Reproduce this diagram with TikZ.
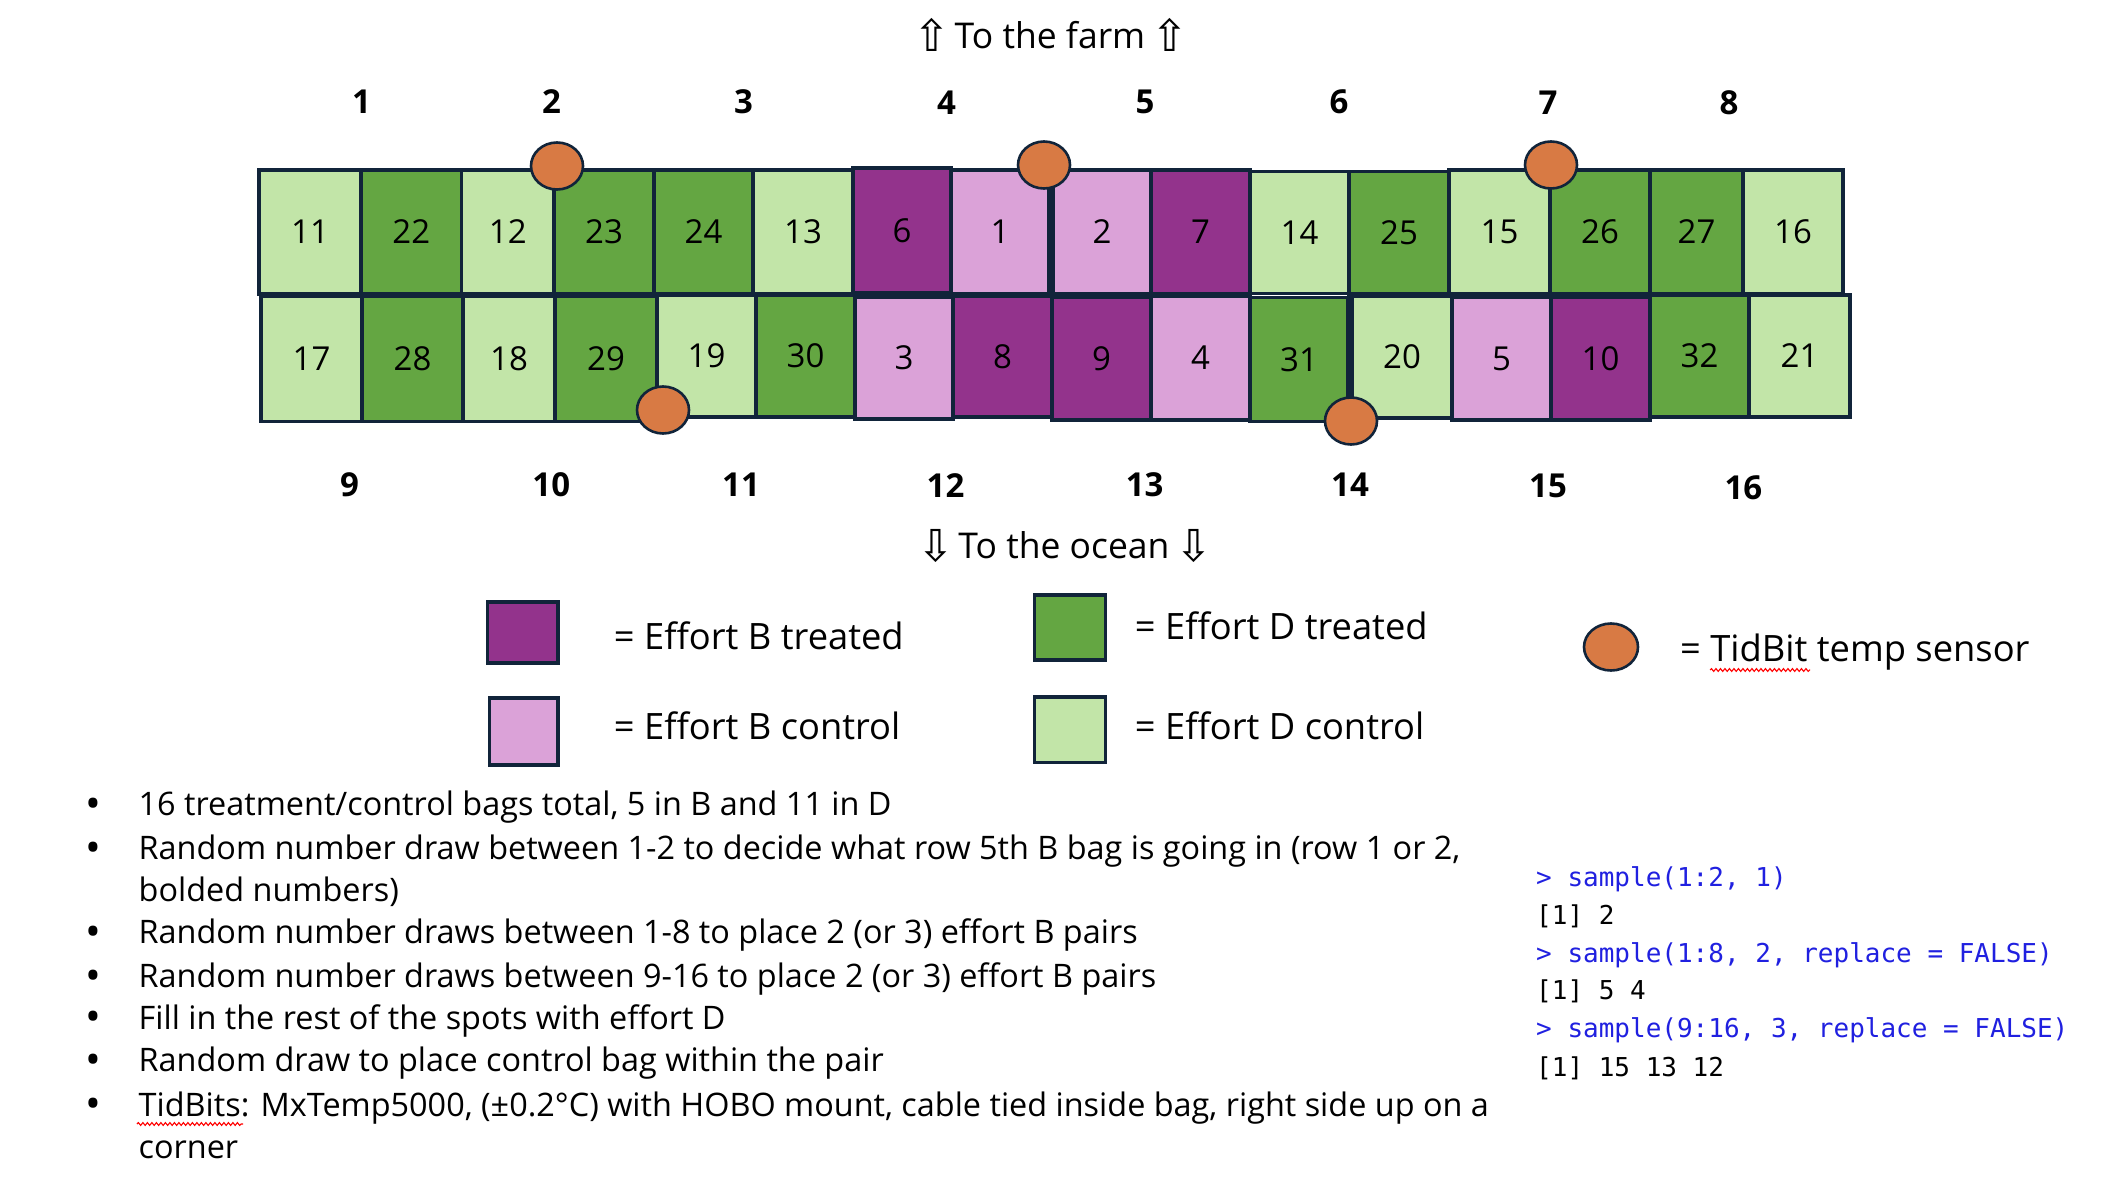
\documentclass[tikz,border=0pt]{standalone}
\usepackage{fontspec}
\setmainfont{Open Sans}
\newfontfamily\arrowfont{DejaVu Sans}
\newfontfamily\codefont{DejaVu Sans Mono}
\usetikzlibrary{shapes.geometric,decorations.pathmorphing}
\definecolor{bT}{HTML}{93338C}
\definecolor{bC}{HTML}{DBA2D8}
\definecolor{dT}{HTML}{64A642}
\definecolor{dC}{HTML}{C2E5A8}
\definecolor{sens}{HTML}{D87A44}
\definecolor{edge}{HTML}{11243A}
\definecolor{rblue}{HTML}{2020E0}
\tikzset{
 bagbox/.style={draw=edge,line width=3.2pt,inner sep=0pt,font=\fontsize{33}{40}\selectfont},
 sensor/.style={ellipse,draw=edge,line width=2.6pt,fill=sens,minimum width=52pt,minimum height=47pt,inner sep=0pt},
 collabel/.style={inner sep=0pt,font=\fontsize{33}{40}\selectfont\bfseries},
 bigtext/.style={inner sep=0pt,font=\fontsize{36.3}{42}\selectfont},
 headtext/.style={inner sep=0pt,font=\fontsize{35.5}{42}\selectfont},
 bullettext/.style={inner sep=0pt,anchor=base west,font=\fontsize{32.4}{40}\selectfont},
 bulletdot/.style={inner sep=0pt,anchor=base,font=\fontsize{42}{44}\selectfont},
 code/.style={inner sep=0pt,anchor=base west,font=\codefont\fontsize{26}{32}\selectfont},
 squiggle/.style={draw=red,line width=1.1pt,decorate,decoration={snake,amplitude=1.4pt,segment length=4.5pt}},
}
\newcommand\harrow[1]{{\arrowfont\fontsize{44}{44}\selectfont\raisebox{-3pt}{#1}}}
% name, x1, x2, y1, y2, fill, text
\newcommand\bagnode[7]{\node[bagbox,fill=#6,minimum width={(#3-#2)*1pt},minimum height={(#5-#4)*1pt}] (#1) at ({(#2+#3)/2},{(#4+#5)/2}) {#7};}
\begin{document}
\begin{tikzpicture}[x=1pt,y=-1pt]
\useasboundingbox (0,0) rectangle (2124,1188);
\fill[white] (0,0) rectangle (2124,1188);

% title texts
\node[headtext,anchor=base] (farm) at (1051,48.5) {\harrow{⇧}\hspace{4pt}To the farm\hspace{6pt}\harrow{⇧}};
\node[headtext,anchor=base] (ocean) at (1065,558) {\harrow{⇩}\hspace{4pt}To the ocean\hspace{6pt}\harrow{⇩}};

% top row
\bagnode{t11}{259}{361}{170}{294}{dC}{11}
\bagnode{t22}{361}{461.5}{170}{294}{dT}{22}
\bagnode{t12}{461.5}{554}{170}{294}{dC}{12}
\bagnode{t23}{554}{654}{170}{294}{dT}{23}
\bagnode{t24}{654}{753}{170}{294}{dT}{24}
\bagnode{t13}{753}{853}{170}{294}{dC}{13}
\bagnode{t6}{853}{951}{168}{293}{bT}{6}
\bagnode{t1}{951}{1049}{170}{294}{bC}{1}
\bagnode{t2}{1053}{1151}{170}{294}{bC}{2}
\bagnode{t7}{1151}{1250}{170}{294}{bT}{7}
\bagnode{t14}{1250}{1349}{171.5}{293.5}{dC}{14}
\bagnode{t25}{1349}{1449}{171.5}{294}{dT}{25}
\bagnode{t15}{1449}{1550}{170}{294}{dC}{15}
\bagnode{t26}{1550}{1650}{170}{294}{dT}{26}
\bagnode{t27}{1650}{1743}{170}{294}{dT}{27}
\bagnode{t16}{1743}{1843}{170}{294}{dC}{16}

% bottom row
\bagnode{b17}{261}{362}{296}{421.5}{dC}{17}
\bagnode{b28}{362}{463}{296}{421.5}{dT}{28}
\bagnode{b18}{463}{555}{296}{421.5}{dC}{18}
\bagnode{b29}{555}{657}{296}{421.5}{dT}{29}
\bagnode{b19}{657}{756}{295}{417}{dC}{19}
\bagnode{b30}{756}{855}{295}{417}{dT}{30}
\bagnode{b3}{855}{953}{297}{419}{bC}{3}
\bagnode{b8}{953}{1052}{296}{417}{bT}{8}
\bagnode{b9}{1052}{1151}{297}{420}{bT}{9}
\bagnode{b4}{1151}{1250}{296}{420}{bC}{4}
\bagnode{b31}{1250}{1348}{297.5}{421.5}{dT}{31}
\bagnode{b20}{1352}{1452}{296}{418}{dC}{20}
\bagnode{b5}{1452}{1551}{297}{420}{bC}{5}
\bagnode{b10}{1551}{1650}{297}{420}{bT}{10}
\bagnode{b32}{1650}{1749}{295}{417}{dT}{32}
\bagnode{b21}{1749}{1850}{295}{417}{dC}{21}

% sensors
\node[sensor] (s1) at (557,166) {};
\node[sensor] (s2) at (1044,165) {};
\node[sensor] (s3) at (1551,165) {};
\node[sensor] (s4) at (663,410) {};
\node[sensor] (s5) at (1351,421) {};

% column labels
\node[collabel] (c1) at (361.5,102) {1};
\node[collabel] (c2) at (551.5,102) {2};
\node[collabel] (c3) at (743.5,102) {3};
\node[collabel] (c4) at (946.5,103) {4};
\node[collabel] (c5) at (1145,102) {5};
\node[collabel] (c6) at (1339,102) {6};
\node[collabel] (c7) at (1548,103) {7};
\node[collabel] (c8) at (1729,103) {8};
\node[collabel] (c9) at (349.5,485) {9};
\node[collabel] (c10) at (551.3,485) {10};
\node[collabel] (c11) at (741,485) {11};
\node[collabel] (c12) at (945.5,486) {12};
\node[collabel] (c13) at (1144.7,485) {13};
\node[collabel] (c14) at (1350,485) {14};
\node[collabel] (c15) at (1548,486) {15};
\node[collabel] (c16) at (1743.4,488) {16};

% legend
\bagnode{lBT}{487.5}{558}{602}{663}{bT}{}
\bagnode{lBC}{489.5}{558}{698}{765}{bC}{}
\bagnode{lDT}{1034.5}{1105.5}{595}{660}{dT}{}
\bagnode{lDC}{1034.5}{1105.5}{697}{762.5}{dC}{}
\node[sensor,minimum width=54pt,minimum height=47pt] (lS) at (1611,647) {};
\node[bigtext,anchor=base west] (tBT) at (613.7,649) {= Effort B treated};
\node[bigtext,anchor=base west] (tBC) at (613.7,739.5) {= Effort B control};
\node[bigtext,anchor=base west] (tDT) at (1134.7,639) {= Effort D treated};
\node[bigtext,anchor=base west] (tDC) at (1134.7,739.5) {= Effort D control};
\node[bigtext,anchor=base west] (tS) at (1680,661.5) {= TidBit temp sensor};
\draw[squiggle] (1710,670) -- (1810,670);

% bullets
\node[bulletdot] (d1) at (93,818) {•};
\node[bullettext] (l1) at (138.5,815.5) {16 treatment/control bags total, 5 in B and 11 in D};
\node[bulletdot] (d2) at (93,862) {•};
\node[bullettext] (l2) at (138.5,859.5) {Random number draw between 1-2 to decide what row 5th B bag is going in (row 1 or 2,};
\node[bullettext] (l2b) at (138.5,901.5) {bolded numbers)};
\node[bulletdot] (d3) at (93,946) {•};
\node[bullettext] (l3) at (138.5,943.5) {Random number draws between 1-8 to place 2 (or 3) effort B pairs};
\node[bulletdot] (d4) at (93,990) {•};
\node[bullettext] (l4) at (138.5,987.5) {Random number draws between 9-16 to place 2 (or 3) effort B pairs};
\node[bulletdot] (d5) at (93,1031.5) {•};
\node[bullettext] (l5) at (138.5,1029) {Fill in the rest of the spots with effort D};
\node[bulletdot] (d6) at (93,1074) {•};
\node[bullettext] (l6) at (138.5,1071.5) {Random draw to place control bag within the pair};
\node[bulletdot] (d7) at (93,1118.5) {•};
\node[bullettext] (l7) at (138.5,1116) {TidBits: MxTemp5000, (±0.2°C) with HOBO mount, cable tied inside bag, right side up on a};
\node[bullettext] (l7b) at (138.5,1158) {corner};
\draw[squiggle] (137,1124) -- (243,1124);

% R code
\node[code,text=rblue] (r1) at (1536,886) {> sample(1:2, 1)};
\node[code] (r2) at (1536,924.5) {[1] 2};
\node[code,text=rblue] (r3) at (1536,962.7) {> sample(1:8, 2, replace = FALSE)};
\node[code] (r4) at (1536,999.5) {[1] 5 4};
\node[code,text=rblue] (r5) at (1536,1037.7) {> sample(9:16, 3, replace = FALSE)};
\node[code] (r6) at (1536,1076) {[1] 15 13 12};
\end{tikzpicture}
\end{document}
